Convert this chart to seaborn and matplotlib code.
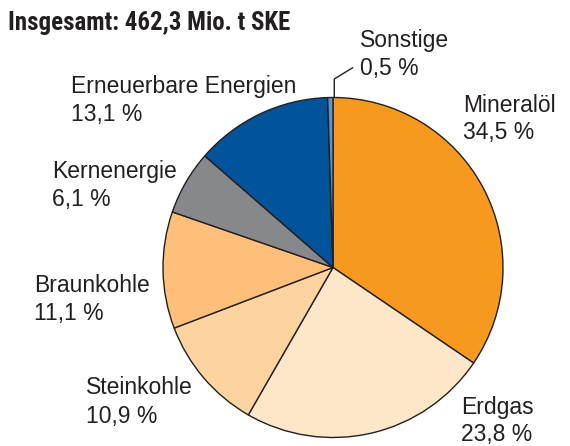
import matplotlib
matplotlib.use("Agg")
import matplotlib.pyplot as plt
from matplotlib import font_manager
import seaborn as sns

# Primärenergieverbrauch nach Energieträgern
categories = ["Mineralöl", "Erdgas", "Steinkohle", "Braunkohle",
              "Kernenergie", "Erneuerbare Energien", "Sonstige"]
shares = [34.5, 23.8, 10.9, 11.1, 6.1, 13.1, 0.5]
value_labels = ["34,5 %", "23,8 %", "10,9 %", "11,1 %", "6,1 %", "13,1 %", "0,5 %"]
title = "Insgesamt: 462,3 Mio. t SKE"

colors = ["#F7991F", "#FEE6C9", "#FDD49F", "#FDBF79",
          "#87888B", "#02549A", "#5F93CC"]

sns.set_theme(style="white")
plt.rcParams["font.family"] = ["Liberation Sans", "DejaVu Sans"]


def condensed_bold():
    """Return FontProperties for a narrow bold face, if one is installed."""
    cands = []
    for f in font_manager.fontManager.ttflist:
        name = f.name.lower()
        fn = f.fname.lower()
        narrow = ("narrow" in name or "condensed" in name or "condensed" in fn
                  or "narrow" in fn or f.stretch in ("condensed", "semi-condensed"))
        w = f.weight if isinstance(f.weight, int) else 400
        if narrow and (w >= 600 or "bold" in fn) and "oblique" not in fn \
                and "italic" not in fn and f.style == "normal":
            cands.append(f)
    order = ["liberation sans narrow", "roboto condensed", "dejavu sans",
             "open sans", "noto sans"]

    def rank(f):
        n = f.name.lower()
        for i, o in enumerate(order):
            if n.startswith(o):
                return i
        return len(order)
    if cands:
        cands.sort(key=rank)
        return font_manager.FontProperties(fname=cands[0].fname), True
    return font_manager.FontProperties(family="Liberation Sans", weight="bold"), False


W, H = 570, 446
fig = plt.figure(figsize=(W / 100, H / 100), dpi=100)
fig.patch.set_facecolor("white")


def fx(x):
    return x / W


def fy(y):
    return 1 - y / H


# pie placed as a square box: centre (333, 267.5), radius 170 px
cx, cy, r = 333, 267.5, 170
ax = fig.add_axes([fx(cx - r), fy(cy + r), 2 * r / W, 2 * r / H])
ax.pie(shares, colors=colors, startangle=90, counterclock=False, radius=1,
       wedgeprops=dict(edgecolor="#231F20", linewidth=1.0))
ax.set_xlim(-1, 1)
ax.set_ylim(-1, 1)
ax.set_aspect("auto")
ax.axis("off")

txt = dict(fontsize=16.5, color="#231F20", va="baseline", ha="left")

# label blocks: (left x, baseline of name, baseline of value) in pixels
positions = {
    "Mineralöl": (463, 112, 139),
    "Erdgas": (461, 414, 441),
    "Steinkohle": (86, 394, 423),
    "Braunkohle": (34, 292, 320),
    "Kernenergie": (52, 178, 206),
    "Erneuerbare Energien": (71, 93, 121),
    "Sonstige": (360, 47, 75),
}
for name, val in zip(categories, value_labels):
    x, y1, y2 = positions[name]
    fig.text(fx(x), fy(y1), name, **txt)
    fig.text(fx(x), fy(y2), val, **txt)

# leader line for the small slice
fig.add_artist(plt.Line2D([fx(334.3), fx(334.3), fx(352.7)],
                          [fy(97), fy(79), fy(67.7)],
                          color="#231F20", linewidth=1.0))

# title: scale font so the line spans about 282 px
fp, is_narrow = condensed_bold()
t = fig.text(fx(8), fy(30), title, fontproperties=fp, fontsize=17,
             color="#231F20", va="baseline", ha="left")
fig.canvas.draw()
width = t.get_window_extent().width
t.set_fontsize(17 * 282 / width)

fig.savefig("out.png", dpi=100)
